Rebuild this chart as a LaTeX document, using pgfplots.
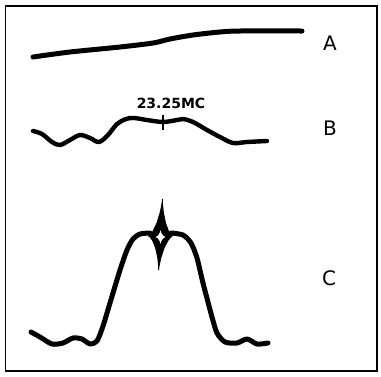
\documentclass[border=0pt]{standalone}
\usepackage{fontspec}
\setmainfont{DejaVu Sans}
\usepackage{pgfplots}
\pgfplotsset{compat=1.18}
\begin{document}
\begin{tikzpicture}
\begin{axis}[
  x=1pt, y=1pt, y dir=reverse,
  xmin=0, xmax=381, ymin=0, ymax=376,
  hide axis,
  clip=false,
]
\coordinate (bl) at (axis cs:0,376);
\coordinate (tr) at (axis cs:381,0);
% frame
\addplot[black, line width=1.8pt, line join=miter] coordinates {
(5.5,6) (377,6) (377,371) (5.5,371) (5.5,6) (20,6)};
% curve A
\addplot[black, line width=5pt, line cap=round, line join=round, smooth, tension=0.5] coordinates {
(33,57) (70,52) (120,47) (153,43) (170,39) (193,35) (220,32) (240,31) (302,31)};
% curve B
\addplot[black, line width=4.4pt, line cap=round, line join=round, smooth, tension=0.55] coordinates {
(33,131) (42,134) (52,142) (60,145) (70,140) (80,135) (90,138) (99,142) (108,135) (117,124) (126,119) (134,118) (147,120) (163,122) (177,120) (183,119) (193,122) (207,130) (220,137) (233,143) (247,142) (267,141)};
\addplot[black, line width=2.6pt] coordinates {(163,115) (163,130)};
\node[font=\bfseries\fontsize{14}{14}\selectfont] at (axis cs:171,103) {23.25MC};
% curve C left
\addplot[black, line width=5pt, line cap=round, line join=round, smooth, tension=0.45] coordinates {
(31,332) (40,337) (52,344) (63,343) (73,338) (82,339) (90,344) (97,341) (103,326) (110,303) (120,270) (127,250) (133,239) (140,234) (150,233)};
% curve C right
\addplot[black, line width=5pt, line cap=round, line join=round, smooth, tension=0.45] coordinates {
(171,233) (183,235) (191,243) (197,258) (203,283) (212,317) (217,333) (225,342) (237,343) (247,339) (257,344) (268,343)};
% star outer
\addplot[fill=black, draw=black, line width=0.8pt] coordinates {
(172.5,236) (171.3,235.4) (168.6,231.4) (165.5,222.9) (163.3,212) (162.5,202.7) (162.5,199)
(162.1,202.7) (160.3,212) (157.0,222.9) (152.9,231.4) (149.7,235.4) (148.5,236)
(149.7,236.6) (152.5,240.3) (155.6,248) (157.8,258.1) (158.6,266.6) (158.6,270)
(159.0,266.6) (160.8,258.1) (164.1,248) (168.1,240.3) (171.3,236.6) (172.5,236)};
% star inner
\addplot[fill=white, draw=none] coordinates {
(165.5,237) (163.75,236.1) (162.3,234.5) (161.1,232.45) (160.5,230)
(159.9,232.45) (158.7,234.5) (157.25,236.1) (155.5,237)
(157.25,237.9) (158.7,239.5) (159.9,241.55) (160.5,244)
(161.1,241.55) (162.3,239.5) (163.75,237.9) (165.5,237)};
\node[font=\fontsize{20}{20}\selectfont] at (axis cs:330,43) {A};
\node[font=\fontsize{20}{20}\selectfont] at (axis cs:330,128) {B};
\node[font=\fontsize{20}{20}\selectfont] at (axis cs:329,278) {C};
\end{axis}
\pgfresetboundingbox
\path (bl) rectangle (tr);
\end{tikzpicture}
\end{document}
